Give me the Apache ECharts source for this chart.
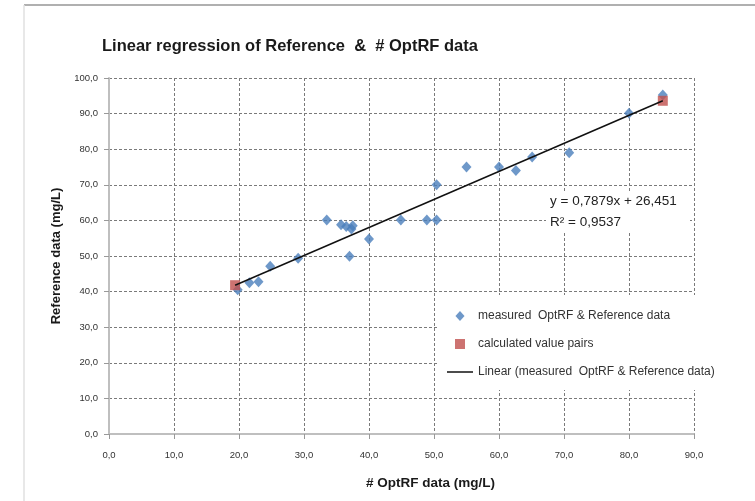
<!DOCTYPE html>
<html>
<head>
<meta charset="utf-8">
<script src="https://cdn.jsdelivr.net/npm/echarts@6/dist/echarts.min.js"></script>
<style>html,body{margin:0;padding:0;background:#fff}#c{width:755px;height:501px}</style>
</head>
<body>
<div id="c"></div>
<script>
const measured = [[19.8,40.5],[21.6,42.5],[23.0,42.8],[24.8,47.1],[29.1,49.4],[33.5,60.1],[35.7,58.8],[36.5,58.3],[37.3,57.6],[37.5,58.5],[37.0,49.9],[40.0,54.8],[44.9,60.1],[48.9,60.1],[50.4,60.1],[50.4,70.0],[55.0,75.0],[60.0,75.0],[62.6,74.0],[65.1,77.8],[70.8,79.0],[80.0,90.1],[85.2,95.2]];
const calculated = [[19.4,41.8],[85.2,93.6]];
const trendLine = [[19.4,41.8],[85.2,93.6]];
const seriesNames = ['measured  OptRF & Reference data','calculated value pairs','Linear (measured  OptRF & Reference data)'];
const equationText = 'y = 0,7879x + 26,451\nR² = 0,9537';
const fmt = v => v.toFixed(1).replace('.', ',');

const chart = echarts.init(document.getElementById('c'));
const FONT = 'Liberation Sans';
chart.setOption({
  animation:false,
  textStyle:{fontFamily:FONT},
  title:{text:'Linear regression of Reference  &  # OptRF data',left:97,top:33,
    textStyle:{fontSize:16.5,fontWeight:'bold',color:'#1a1a1a',fontFamily:FONT}},
  grid:{left:109,right:61,top:78,bottom:67},
  xAxis:{type:'value',min:0,max:90,interval:10,
    name:'# OptRF data (mg/L)',nameLocation:'middle',nameGap:42,
    nameTextStyle:{fontSize:13.5,fontWeight:'bold',color:'#1a1a1a',padding:[0,0,0,58]},
    axisLine:{onZero:false,lineStyle:{color:'#bfbfbf',width:2}},
    axisTick:{show:true,length:5,lineStyle:{color:'#999'}},
    axisLabel:{formatter:fmt,fontSize:9.5,color:'#333',margin:16},
    splitLine:{show:true,lineStyle:{color:'#7a7a7a',type:[3,2],width:1}}},
  yAxis:{type:'value',min:0,max:100,interval:10,
    name:'Reference data (mg/L)',nameLocation:'middle',nameGap:46,
    nameTextStyle:{fontSize:13,fontWeight:'bold',color:'#1a1a1a'},
    axisLine:{show:true,onZero:false,lineStyle:{color:'#bfbfbf',width:2}},
    axisTick:{show:true,length:5,lineStyle:{color:'#999'}},
    axisLabel:{formatter:fmt,fontSize:9.5,color:'#333',margin:11},
    splitLine:{show:true,lineStyle:{color:'#7a7a7a',type:[3,2],width:1}}},
  legend:{orient:'vertical',left:437,top:295,padding:[15,6,12,10],
    backgroundColor:'#fff',itemWidth:26,itemHeight:10,itemGap:16,
    textStyle:{fontSize:12,color:'#333'},
    data:[{name:seriesNames[0],icon:'path://M5,0L10,5.5L5,11L0,5.5Z'},
      {name:seriesNames[1],icon:'path://M0,0L10,0L10,10L0,10Z'},
      {name:seriesNames[2],icon:'path://M0,0L26,0L26,1.5L0,1.5Z'}]},
  graphic:[
    {type:'line',shape:{x1:24,y1:5,x2:755,y2:5},style:{stroke:'#b0b0b0',lineWidth:2},silent:true},
    {type:'line',shape:{x1:24,y1:5,x2:24,y2:501},style:{stroke:'#e0e0e0',lineWidth:1.5},silent:true},
    {type:'text',left:546,top:191,z:100,
      style:{text:equationText,fontSize:13.5,lineHeight:21,align:'center',fill:'#222',
        backgroundColor:'#fff',padding:[0,4,0,4],width:136,fontFamily:FONT}}
  ],
  series:[
    {name:seriesNames[0],type:'scatter',symbol:'diamond',symbolSize:[10,11],
      itemStyle:{color:'#4a7ebb'},data:measured,z:2},
    {name:seriesNames[1],type:'scatter',symbol:'rect',symbolSize:10,
      itemStyle:{color:'#c0504d'},data:calculated,z:3},
    {name:seriesNames[2],type:'line',data:trendLine,symbol:'none',
      lineStyle:{color:'#111',width:1.5},itemStyle:{color:'#111'},z:4}
  ]
});
</script>
</body>
</html>
